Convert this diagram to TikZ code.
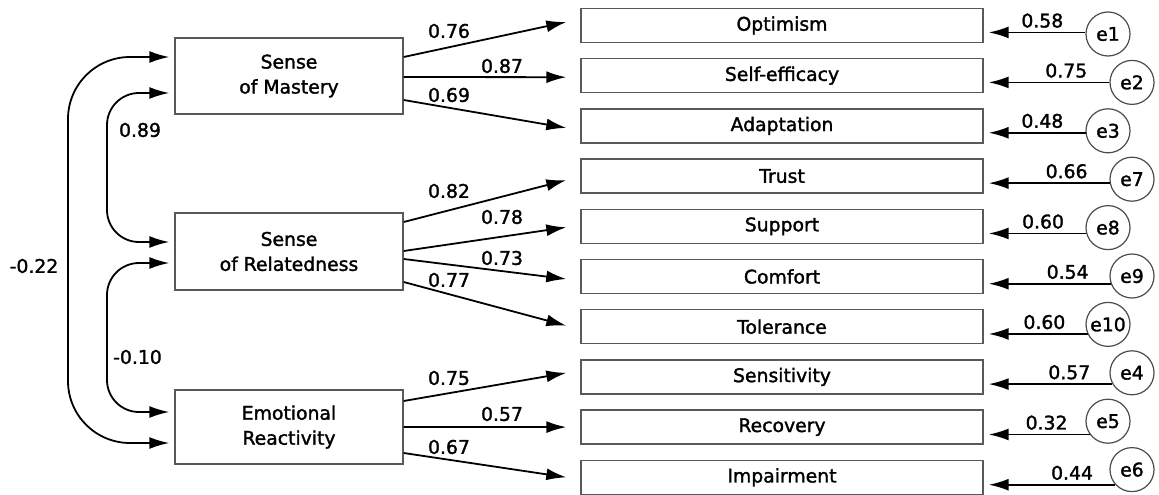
\documentclass[tikz,border=0pt]{standalone}
\usepackage{fontspec}
\setmainfont{DejaVu Sans}[BoldFont={DejaVu Sans},BoldFeatures={FakeBold=1.6}]
\usetikzlibrary{arrows.meta,calc}
\begin{document}
\begin{tikzpicture}[x=1pt,y=-1pt,
  font=\fontsize{18.8}{25}\selectfont\bfseries,
  lat/.style={draw=black!65, line width=1.4pt, minimum width=228pt, minimum height=76pt, align=center, inner sep=0pt},
  ind/.style={draw=black!65, line width=1.4pt, minimum width=402pt, minimum height=34pt, inner sep=0pt},
  err/.style={circle, draw=black!70, line width=1.2pt, minimum size=44pt, inner sep=0pt},
  arr/.style={-{Latex[length=20pt,width=12pt]}, line width=1.8pt},
  biarr/.style={{Latex[length=20pt,width=12pt]}-{Latex[length=20pt,width=12pt]}, line width=1.8pt},
  lab/.style={inner sep=0pt}
]
\useasboundingbox (0,0) rectangle (1159,495);

% latent factors
\node[lat] (mast) at (289,76) {Sense\\of Mastery};
\node[lat, minimum height=77pt] (rel) at (289,251.5) {Sense\\of Relatedness};
\node[lat, minimum height=74pt] (react) at (289,427) {Emotional\\Reactivity};

% indicators
\node[ind] (opt)   at (782,25.5)  {Optimism};
\node[ind] (self)  at (782,75.7)  {Self-efficacy};
\node[ind] (adapt) at (782,125.9) {Adaptation};
\node[ind] (trust) at (782,176.1) {Trust};
\node[ind] (supp)  at (782,226.3) {Support};
\node[ind] (comf)  at (782,276.5) {Comfort};
\node[ind] (tol)   at (782,326.7) {Tolerance};
\node[ind] (sens)  at (782,376.9) {Sensitivity};
\node[ind] (rec)   at (782,427.1) {Recovery};
\node[ind] (imp)   at (782,477.3) {Impairment};

% error terms
\node[err] (e1)  at (1108,34)    {e1};
\node[err] (e2)  at (1132,82.4)  {e2};
\node[err] (e3)  at (1108,130.8) {e3};
\node[err] (e7)  at (1132,179.2) {e7};
\node[err] (e8)  at (1108,227.6) {e8};
\node[err] (e9)  at (1132,276)   {e9};
\node[err] (e10) at (1108,324.4) {e10};
\node[err] (e4)  at (1132,372.8) {e4};
\node[err] (e5)  at (1108,421.2) {e5};
\node[err] (e6)  at (1132,469.6) {e6};

% loadings
\draw[arr] ([yshift=19pt]mast.east)  -- ([xshift=-14pt,yshift=3.5pt]opt.west);
\draw[arr] ([yshift=-1pt]mast.east)  -- ([xshift=-14pt,yshift=-1.5pt]self.west);
\draw[arr] ([yshift=-24pt]mast.east) -- ([xshift=-14pt,yshift=-2pt]adapt.west);
\draw[arr] ([yshift=29.5pt]rel.east) -- ([xshift=-14pt,yshift=-4pt]trust.west);
\draw[arr] ([yshift=0.5pt]rel.east)  -- ([xshift=-14pt,yshift=-1pt]supp.west);
\draw[arr] ([yshift=-7.5pt]rel.east) -- ([xshift=-14pt,yshift=-2.5pt]comf.west);
\draw[arr] ([yshift=-30.5pt]rel.east) -- ([xshift=-14pt,yshift=1pt]tol.west);
\draw[arr] ([yshift=26pt]react.east) -- ([xshift=-14pt,yshift=4pt]sens.west);
\draw[arr] (react.east) -- ([xshift=-14pt]rec.west);
\draw[arr] ([yshift=-26pt]react.east) -- ([xshift=-14pt]imp.west);

\node[lab] (w1)  at (449,31)  {0.76};
\node[lab] (w2)  at (502,66)  {0.87};
\node[lab] (w3)  at (449,95)  {0.69};
\node[lab] (w4)  at (449,191) {0.82};
\node[lab] (w5)  at (502,217) {0.78};
\node[lab] (w6)  at (502,258) {0.73};
\node[lab] (w7)  at (449,280) {0.77};
\node[lab] (w8)  at (449,378) {0.75};
\node[lab] (w9)  at (502,414) {0.57};
\node[lab] (w10) at (449,447) {0.67};

% error arrows
\draw[arr] (e1.176)  -- ([xshift=5pt]opt.east   |- e1.176);
\draw[arr] (e2.180)  -- ([xshift=5pt]self.east  |- e2.180);
\draw[arr] (e3.185)  -- ([xshift=5pt]adapt.east |- e3.185);
\draw[arr] (e7.190)  -- ([xshift=5pt]trust.east |- e7.190);
\draw[arr] (e8.195)  -- ([xshift=5pt]supp.east  |- e8.195);
\draw[arr] (e9.200)  -- ([xshift=5pt]comf.east  |- e9.200);
\draw[arr] (e10.205) -- ([xshift=5pt]tol.east   |- e10.205);
\draw[arr] (e4.210)  -- ([xshift=5pt]sens.east  |- e4.210);
\draw[arr] (e5.216)  -- ([xshift=5pt]rec.east   |- e5.216);
\draw[arr] (e6.222)  -- ([xshift=5pt]imp.east   |- e6.222);

\node[lab, anchor=base east] (v1)  at ([xshift=-22pt,yshift=5pt]e1.176)  {0.58};
\node[lab, anchor=base east] (v2)  at ([xshift=-22pt,yshift=5pt]e2.180)  {0.75};
\node[lab, anchor=base east] (v3)  at ([xshift=-22pt,yshift=5pt]e3.185)  {0.48};
\node[lab, anchor=base east] (v7)  at ([xshift=-22pt,yshift=5pt]e7.190)  {0.66};
\node[lab, anchor=base east] (v8)  at ([xshift=-22pt,yshift=5pt]e8.195)  {0.60};
\node[lab, anchor=base east] (v9)  at ([xshift=-22pt,yshift=5pt]e9.200)  {0.54};
\node[lab, anchor=base east] (v10) at ([xshift=-22pt,yshift=5pt]e10.205) {0.60};
\node[lab, anchor=base east] (v4)  at ([xshift=-22pt,yshift=5pt]e4.210)  {0.57};
\node[lab, anchor=base east] (v5)  at ([xshift=-22pt,yshift=5pt]e5.216)  {0.32};
\node[lab, anchor=base east] (v6)  at ([xshift=-22pt,yshift=5pt]e6.222)  {0.44};

% covariances
\coordinate (c1) at (68,250);
\coordinate (c2) at (107,167);
\coordinate (c3) at (107,337);
\draw[biarr, rounded corners=62pt] ([xshift=-5pt,yshift=19pt]mast.west) -| (c1) |- ([xshift=-5pt,yshift=-16pt]react.west);
\draw[biarr, rounded corners=32pt] ([xshift=-5pt,yshift=-17pt]mast.west) -| (c2) |- ([xshift=-5pt,yshift=9.5pt]rel.west);
\draw[biarr, rounded corners=32pt] ([xshift=-5pt,yshift=-11.5pt]rel.west) -| (c3) |- ([xshift=-5pt,yshift=15pt]react.west);

\node[lab] (k1) at (34,266)    {-0.22};
\node[lab] (k2) at (140,130)   {0.89};
\node[lab] (k3) at (137.5,357) {-0.10};
\end{tikzpicture}
\end{document}
